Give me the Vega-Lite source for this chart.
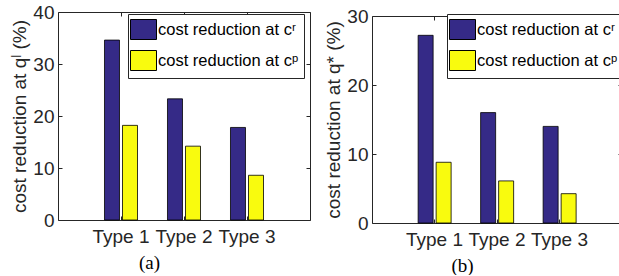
{
  "$schema": "https://vega.github.io/schema/vega-lite/v6.json",
  "background": "white",
  "padding": {"left": 10, "top": 3, "right": 0, "bottom": 0},
  "autosize": {"type": "pad"},
  "datasets": {
    "a": [
      {"type": "Type 1", "series": "cost reduction at cʳ", "value": 34.6},
      {"type": "Type 1", "series": "cost reduction at cᵖ", "value": 18.2},
      {"type": "Type 2", "series": "cost reduction at cʳ", "value": 23.3},
      {"type": "Type 2", "series": "cost reduction at cᵖ", "value": 14.2},
      {"type": "Type 3", "series": "cost reduction at cʳ", "value": 17.8},
      {"type": "Type 3", "series": "cost reduction at cᵖ", "value": 8.6}
    ],
    "b": [
      {"type": "Type 1", "series": "cost reduction at cʳ", "value": 27.2},
      {"type": "Type 1", "series": "cost reduction at cᵖ", "value": 8.8},
      {"type": "Type 2", "series": "cost reduction at cʳ", "value": 16.0},
      {"type": "Type 2", "series": "cost reduction at cᵖ", "value": 6.1},
      {"type": "Type 3", "series": "cost reduction at cʳ", "value": 14.0},
      {"type": "Type 3", "series": "cost reduction at cᵖ", "value": 4.25}
    ],
    "empty": []
  },
  "config": {
    "font": "Liberation Sans",
    "view": {"stroke": null},
    "concat": {"spacing": 13},
    "axis": {
      "domainColor": "#262626", "tickColor": "#262626", "labelColor": "#262626", "titleColor": "#262626",
      "labelFont": "Liberation Sans", "labelFontSize": 19, "titleFont": "Liberation Sans", "titleFontSize": 19,
      "titleFontWeight": "normal", "grid": false, "domainWidth": 1, "tickWidth": 1
    },
    "legend": {
      "orient": "none", "direction": "vertical", "title": null,
      "symbolType": "M-1.3,-1H1.3V1H-1.3Z", "symbolSize": 400, "symbolStrokeColor": "#000", "symbolStrokeWidth": 1,
      "labelFont": "Liberation Sans", "labelFontSize": 16.5, "labelColor": "#000", "labelLimit": 300,
      "strokeColor": "#262626", "fillColor": "white", "padding": 5, "rowPadding": 6, "labelOffset": 4
    }
  },
  "resolve": {"scale": {"color": "independent"}},
  "hconcat": [
    {
      "width": 252, "height": 208,
      "data": {"name": "a"},
      "layer": [
        {
          "mark": {"type": "bar", "stroke": "#000", "strokeWidth": 0.8},
          "encoding": {
            "x": {"field": "type", "type": "nominal", "sort": null, "scale": {"paddingInner": 0.476, "paddingOuter": 0.738},
                  "axis": {"orient": "bottom", "labelAngle": 0, "tickSize": -4, "labelPadding": 11, "title": "(a)",
                           "titleFont": "Liberation Serif", "titleFontSize": 19, "titleX": 91, "titleY": 48, "titleAlign": "center", "titleBaseline": "alphabetic", "titleColor": "#000"}},
            "xOffset": {"field": "series", "type": "nominal", "sort": null, "scale": {"paddingInner": 0.167, "paddingOuter": 0}},
            "y": {"field": "value", "type": "quantitative", "scale": {"domain": [0, 40], "nice": false},
                  "axis": {"orient": "left", "values": [0, 10, 20, 30, 40], "tickSize": -4, "labelPadding": 8, "title": "cost reduction at qˡ (%)", "titlePadding": 3}},
            "color": {"field": "series", "type": "nominal", "scale": {"domain": ["cost reduction at cʳ", "cost reduction at cᵖ"], "range": ["#352A87", "#F9FB0E"]},
                      "legend": {"legendX": 70, "legendY": 2}}
          }
        },
        {
          "mark": {"type": "bar", "opacity": 0},
          "encoding": {
            "x": {"field": "type", "type": "nominal", "sort": null, "axis": {"orient": "top", "labels": false, "tickSize": -4, "title": null}},
            "xOffset": {"field": "series", "type": "nominal", "sort": null},
            "y": {"field": "value", "type": "quantitative", "axis": {"orient": "right", "labels": false, "tickSize": -4, "title": null, "values": [0, 10, 20, 30, 40]}}
          }
        }
      ],
      "resolve": {"axis": {"x": "independent", "y": "independent"}}
    },
    {
      "spacing": -6,
      "vconcat": [
        {
          "width": 250, "height": 1,
          "data": {"name": "empty"},
          "mark": {"type": "rule"},
          "encoding": {}
        },
        {
          "width": 250, "height": 207,
          "data": {"name": "b"},
          "layer": [
            {
              "mark": {"type": "bar", "stroke": "#000", "strokeWidth": 0.8},
              "encoding": {
                "x": {"field": "type", "type": "nominal", "sort": null, "scale": {"paddingInner": 0.476, "paddingOuter": 0.738},
                      "axis": {"orient": "bottom", "labelAngle": 0, "tickSize": -4, "labelPadding": 11, "title": "(b)",
                               "titleFont": "Liberation Serif", "titleFontSize": 19, "titleX": 90, "titleY": 48, "titleAlign": "center", "titleBaseline": "alphabetic", "titleColor": "#000"}},
                "xOffset": {"field": "series", "type": "nominal", "sort": null, "scale": {"paddingInner": 0.167, "paddingOuter": 0}},
                "y": {"field": "value", "type": "quantitative", "scale": {"domain": [0, 30], "nice": false},
                      "axis": {"orient": "left", "values": [0, 10, 20, 30], "tickSize": -4, "labelPadding": 8, "title": "cost reduction at q* (%)", "titlePadding": 3}},
                "color": {"field": "series", "type": "nominal", "scale": {"domain": ["cost reduction at cʳ", "cost reduction at cᵖ"], "range": ["#352A87", "#F9FB0E"]},
                          "legend": {"legendX": 75, "legendY": 2}}
              }
            },
            {
              "mark": {"type": "bar", "opacity": 0},
              "encoding": {
                "x": {"field": "type", "type": "nominal", "sort": null, "axis": {"orient": "top", "labels": false, "tickSize": -4, "title": null}},
                "xOffset": {"field": "series", "type": "nominal", "sort": null},
                "y": {"field": "value", "type": "quantitative", "axis": {"orient": "right", "labels": false, "tickSize": -4, "title": null, "values": [0, 10, 20, 30]}}
              }
            }
          ],
          "resolve": {"axis": {"x": "independent", "y": "independent"}}
        }
      ]
    }
  ]
}
